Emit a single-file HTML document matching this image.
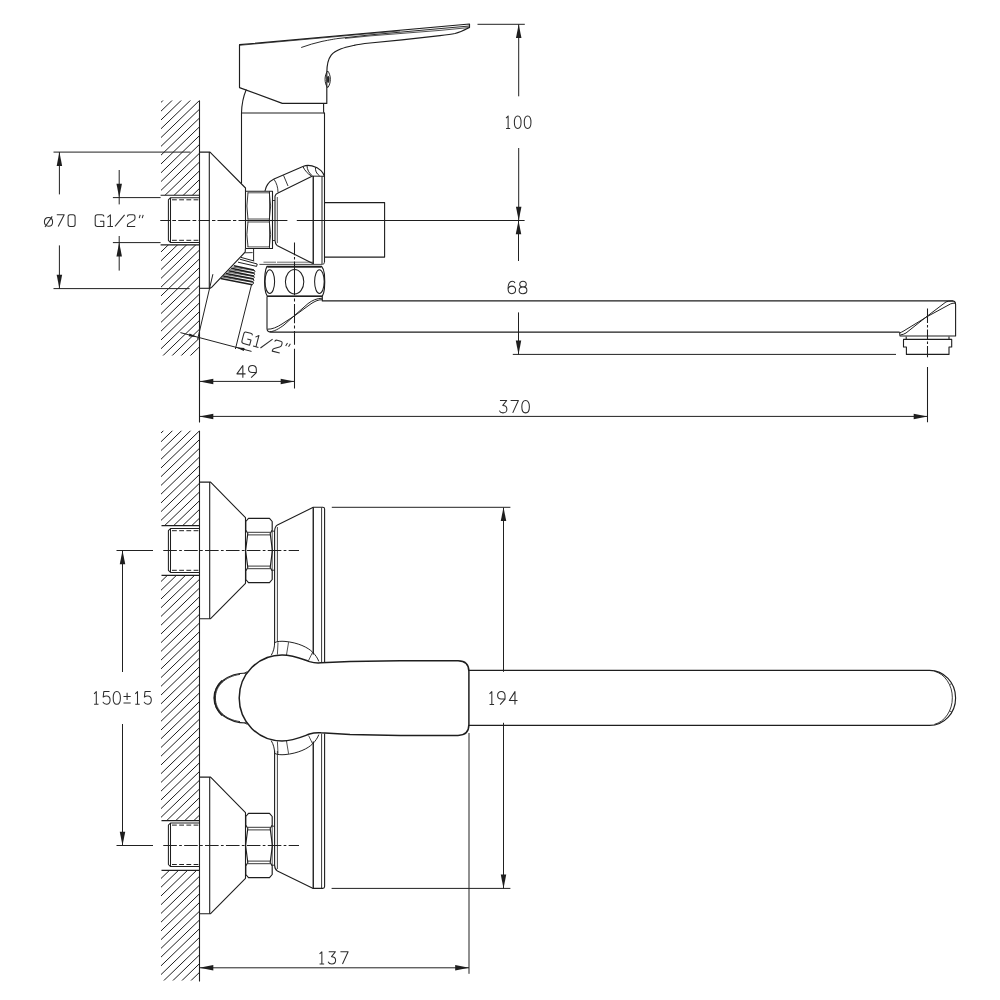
<!DOCTYPE html>
<html><head><meta charset="utf-8"><title>Faucet drawing</title>
<style>
html,body{margin:0;padding:0;background:#fff;font-family:"Liberation Sans",sans-serif;}
svg{display:block;}
</style></head>
<body>
<svg width="1000" height="1000" viewBox="0 0 1000 1000"
 fill="none" stroke="#1e1e1e" stroke-linecap="butt" stroke-linejoin="round">
<rect x="0" y="0" width="1000" height="1000" fill="#ffffff" stroke="none"/>
<path d="M199.5 100.4L199.5 422.6" stroke-width="1.10" />
<clipPath id="h1"><rect x="161.0" y="100.6" width="38.5" height="94.70000000000002"/></clipPath>
<path d="M160.00 85.72L200.50 46.63M160.00 94.52L200.50 55.44M160.00 103.32L200.50 64.23M160.00 112.12L200.50 73.03M160.00 120.92L200.50 81.84M160.00 129.72L200.50 90.64M160.00 138.52L200.50 99.44M160.00 147.32L200.50 108.23M160.00 156.12L200.50 117.03M160.00 164.92L200.50 125.84M160.00 173.72L200.50 134.64M160.00 182.52L200.50 143.44M160.00 191.32L200.50 152.24M160.00 200.12L200.50 161.03M160.00 208.92L200.50 169.84M160.00 217.72L200.50 178.64M160.00 226.52L200.50 187.44M160.00 235.32L200.50 196.24M160.00 244.12L200.50 205.03" stroke-width="1.0" clip-path="url(#h1)"/>
<clipPath id="h2"><rect x="161.0" y="245.0" width="38.5" height="110.39999999999998"/></clipPath>
<path d="M160.00 235.32L200.50 196.24M160.00 244.12L200.50 205.03M160.00 252.92L200.50 213.84M160.00 261.72L200.50 222.64M160.00 270.52L200.50 231.44M160.00 279.32L200.50 240.24M160.00 288.12L200.50 249.04M160.00 296.92L200.50 257.84M160.00 305.72L200.50 266.64M160.00 314.52L200.50 275.44M160.00 323.32L200.50 284.24M160.00 332.12L200.50 293.04M160.00 340.92L200.50 301.84M160.00 349.72L200.50 310.64M160.00 358.52L200.50 319.44M160.00 367.32L200.50 328.24M160.00 376.12L200.50 337.04M160.00 384.92L200.50 345.84M160.00 393.72L200.50 354.64M160.00 402.52L200.50 363.44" stroke-width="1.0" clip-path="url(#h2)"/>
<path d="M160.6 195.3L199.5 195.3" stroke-width="1.10" />
<path d="M160.6 244.9L199.5 244.9" stroke-width="1.10" />
<path d="M199.5 197.7L170.5 197.7L168.4 199.8L168.4 240.4L170.5 242.6L199.5 242.6M170.5 197.7L170.5 242.6" stroke-width="1.04" />
<path d="M172 199.8L199.5 199.8" stroke-width="0.99" stroke-dasharray="4.8 2.4"/>
<path d="M172 240.3L199.5 240.3" stroke-width="0.99" stroke-dasharray="4.8 2.4"/>
<path d="M199.5 152.1L210 152.1L245.5 188L245.5 248.5" stroke-width="1.10" />
<path d="M209.3 152.1L209.3 288.3" stroke-width="1.10" />
<path d="M199.5 288.3L210.4 288.3" stroke-width="1.10" />
<path d="M209.5 288.3L211.6 287.4L245.2 252L245.4 248.5" stroke-width="1.10" />
<path d="M245.5 191.2L272.5 191.2L272.5 248.5L245.5 248.5" stroke-width="1.10" />
<path d="M245.5 220.5L272.5 220.5" stroke-width="1.10" />
<path d="M247.5 192.8L270 192.8M247.5 246.9L270 246.9M247.5 219L270 219M247.5 222L270 222" stroke-width="0.77" />
<path d="M248 192.5Q245.8 206 248 219.5M248 221.5Q245.8 235 248 247" stroke-width="0.88" />
<path d="M269.3 192.5Q272 206 269.3 219.5M269.3 221.5Q272 235 269.3 247" stroke-width="0.88" />
<path d="M269.5 191.2L269.5 248.5" stroke-width="0.77" />
<path d="M272.5 200.5L275 200.5M272.5 240.5L275 240.5" stroke-width="0.88" />
<path d="M277.3 197L277.3 243" stroke-width="0.77" />
<path d="M241.5 113L241.5 183.5" stroke-width="1.10" />
<path d="M241.5 113L325 113" stroke-width="1.10" />
<path d="M324.5 113L324.5 262" stroke-width="1.10" />
<path d="M246.3 89.5Q241.8 100 241.5 113" stroke-width="1.10" />
<path d="M323.6 103.4L323.6 112Q323.8 113 324.5 113.4" stroke-width="1.10" />
<path d="M239.5 87.6L239.5 44.7L469.5 24L469.5 27.5C466.5 29 461 32 455 33.5C452 34.1 447 34.8 440 35.6L402 39.8L370 43C362 43.8 357 44.6 354 45.4C348 46.8 344.5 47.6 341.2 48.8C336 50.8 333 52.8 331.2 55.2C328.4 58.8 326.8 64 326.8 73L326.8 103.4L282.3 103.4Z" stroke-width="1.16" />
<path d="M301.2 47.5C308 45 315 43 322 41.4C330 39.8 335 38.9 338 38.5L370 34.9L440 28.6L469.5 26" stroke-width="0.94" />
<path d="M345 38.4L370 35.9L440 30.4L469.5 27.5" stroke-width="0.77" />
<path d="M239.5 45.3L400 30.9" stroke-width="0.77" />
<path d="M327.7 71C331.2 75 331.2 83.6 327.7 87.6C324.2 83.6 324.2 75 327.7 71Z" stroke-width="0.99" />
<ellipse cx="328.2" cy="79.4" rx="0.9" ry="3.2" stroke-width="0.8" fill="#1e1e1e"/>
<path d="M265 191C266 185.5 269 181.5 274 179L303.5 166.3C306 165.2 309 165.2 312 165.9C316 166.9 319 168.6 321 170.6C322.6 172.2 323.6 173.8 324.2 175.8" stroke-width="1.10" />
<path d="M275 196C275.6 194.4 276.6 193.6 278 193L312 176.2" stroke-width="1.10" />
<path d="M274 179.3C276.6 183 278 187.5 278 192.5M283.5 175.3L288 186" stroke-width="0.88" />
<path d="M303 166.6C304.4 170 307.6 173.8 311.4 176M307 165.5C307 169.4 309 173.4 312.4 175.8M315.6 167.4C315 170.4 316.4 173.6 319.6 175.9" stroke-width="0.99" />
<path d="M312 176.1L324.2 176.3" stroke-width="0.99" />
<path d="M313.25 176L313.25 264" stroke-width="1.38" />
<path d="M322 176.5L322 264" stroke-width="0.99" />
<path d="M275 196L275 240.5C275.2 243 275.8 244.4 277 245.4L312.8 263.6" stroke-width="1.10" />
<path d="M259.4 264.4L322.4 264.4Q324.5 264.4 324.5 262" stroke-width="0.83" />
<path d="M263.5 262.2L276 262.2M277 262.2L313 262.2" stroke-width="0.66" />
<path d="M324.5 202.6L384.6 202.6L384.6 257.1L324.5 257.1" stroke-width="1.10" />
<path d="M253.6 248.4L253.6 260.8" stroke-width="0.99" />
<path d="M245.5 248.5L253.6 248.5" stroke-width="0.88" />
<path d="M233.8 265.8L253.9 270.0M231.2 268.3L253.6 272.9M228.5 270.8L253.3 275.9M225.9 273.4L253.0 278.8M223.2 275.9L252.7 281.8M220.6 278.4L252.4 284.7" stroke-width="1.49" />
<path d="M232.5 267.1L254.8 270.6M229.8 269.6L254.5 273.5M227.2 272.1L254.2 276.5M224.6 274.6L253.9 279.4M221.9 277.1L253.6 282.4" stroke-width="0.66" />
<path d="M253.9 270L254.9 271.5L253.6 273L254.6 274.4L253.3 275.9L254.3 277.3L253 278.8L254 280.2L252.7 281.7L253.6 283L252.4 284.7" stroke-width="0.99" />
<path d="M241 257.4L254.2 261M239.8 259.2L257.2 264L256.6 266.4L238 262.2" stroke-width="0.99" />
<path d="M245.2 252.8L252.6 252.6" stroke-width="0.88" />
<path d="M212.9 274.2L197.6 339.4" stroke-width="0.99" />
<path d="M251.7 284L235.4 349" stroke-width="0.99" />
<path d="M180.4 332.6L251.5 351.4" stroke-width="0.99" />
<path d="M197.60 337.10L188.71 336.30L189.48 333.40Z" fill="#1e1e1e" stroke="none"/>
<path d="M235.70 347.30L244.59 348.10L243.82 351.00Z" fill="#1e1e1e" stroke="none"/>
<path d="M267 266.4L321.6 266.4C323 268 324 270.4 324.4 274C324.8 279 324.8 284 324.4 289C324 292.4 323.2 294.8 322.2 296.4L267.4 296.4C266.2 294.8 265.4 292.4 265 289C264.5 284 264.5 279 265 274C265.4 270.4 266 268 267 266.4Z" stroke-width="1.16" />
<path d="M267.4 267.4L321.4 267.4" stroke-width="0.77" />
<path d="M267.4 296.2L322.2 296.2" stroke-width="1.43" />
<ellipse cx="269.8" cy="281.6" rx="4.8" ry="11.8" stroke-width="1.05"/>
<ellipse cx="294.6" cy="281.8" rx="9.2" ry="12.2" stroke-width="1.05"/>
<ellipse cx="319.4" cy="281.6" rx="4.8" ry="11.8" stroke-width="1.05"/>
<path d="M267 296.6L267 328.6Q267 332.1 270.6 332.1L899.6 332.1" stroke-width="1.10" />
<path d="M322.3 296.6L322.3 300.9L952 300.9Q955.6 300.9 955.6 304.5L955.6 336L900 336L899.6 332.1" stroke-width="1.10" />
<path d="M267.4 329.2C272 329.4 277 327.2 282 324L294.4 315.9L310 304.5C314 301.7 318 299.5 322.3 299.7" stroke-width="0.99" />
<path d="M269.6 331.7C274 331.7 279 328.7 284 325L294.4 315.6L308 303.6C312 300.4 317 298.2 322.3 298.2" stroke-width="0.99" />
<path d="M900 332.8Q901.5 332.2 903 331.4L927.2 316.6L950.6 303.9Q953 302.9 955.4 303.2" stroke-width="0.99" />
<path d="M900.6 334.9Q903.4 334.6 906 333L927.2 316.2L946 301.9Q948 301 953 301" stroke-width="0.99" />
<path d="M906.2 336.4L906.2 339.4M949 336.4L949 339.4M903.5 339.4L951.7 339.4L951.7 347L949 347L949 354.4L906.4 354.4L906.4 347L903.5 347Z" stroke-width="1.10" />
<path d="M160.25 220.5L170 220.5M172.25 220.5L176 220.5M178.25 220.5L190.25 220.5M192.5 220.5L196.25 220.5M198.5 220.5L209.85 220.5M212 220.5L215.4 220.5M217.5 220.5L230.75 220.5M233 220.5L236.25 220.5M238.5 220.5L250.5 220.5M252.5 220.5L255.5 220.5M257 220.5L287.4 220.5M296.8 220.5L524.6 220.5" stroke-width="1.04" />
<path d="M294.5 242.4L294.5 255.2M294.5 257L294.5 259.6M294.5 261.6L294.5 295.2M294.5 298.4L294.5 301.6M294.5 304L294.5 323.2M294.5 325.4L294.5 328.6M294.5 331L294.5 344.8M294.5 348.8L294.5 388.6" stroke-width="1.04" />
<path d="M927.5 308.5L927.5 323M927.5 325L927.5 327.6M927.5 329.6L927.5 339.4M927.5 341.4L927.5 344M927.5 346L927.5 357.2M927.5 367L927.5 422.3" stroke-width="1.04" />
<path d="M53.5 152.1L190.4 152.1" stroke-width="0.99" />
<path d="M53.5 288.6L189.6 288.6" stroke-width="0.99" />
<path d="M59.4 152.1L59.4 194.4" stroke-width="0.99" />
<path d="M59.40 152.10L62.15 165.90L56.65 165.90Z" fill="#1e1e1e" stroke="none"/>
<path d="M59.4 245.4L59.4 288.6" stroke-width="0.99" />
<path d="M59.40 288.60L56.65 274.80L62.15 274.80Z" fill="#1e1e1e" stroke="none"/>
<path d="M112.9 197.6L160.6 197.6" stroke-width="0.99" />
<path d="M112.9 242.6L160.6 242.6" stroke-width="0.99" />
<path d="M119.2 170L119.2 204.4" stroke-width="0.99" />
<path d="M119.20 197.60L116.45 183.80L121.95 183.80Z" fill="#1e1e1e" stroke="none"/>
<path d="M119.2 236L119.2 270.6" stroke-width="0.99" />
<path d="M119.20 242.60L121.95 256.40L116.45 256.40Z" fill="#1e1e1e" stroke="none"/>
<path d="M477.5 24.3L524.8 24.3" stroke-width="0.99" />
<path d="M518.7 24.3L518.7 96.3" stroke-width="0.99" />
<path d="M518.70 24.30L521.45 38.10L515.95 38.10Z" fill="#1e1e1e" stroke="none"/>
<path d="M518.7 148L518.7 220.5" stroke-width="0.99" />
<path d="M518.70 220.50L515.95 206.70L521.45 206.70Z" fill="#1e1e1e" stroke="none"/>
<path d="M518.5 220.5L518.5 261" stroke-width="0.99" />
<path d="M518.50 220.50L521.25 234.30L515.75 234.30Z" fill="#1e1e1e" stroke="none"/>
<path d="M518.5 312.4L518.5 354.4" stroke-width="0.99" />
<path d="M518.50 354.40L515.75 340.60L521.25 340.60Z" fill="#1e1e1e" stroke="none"/>
<path d="M512.8 354.4L896 354.4" stroke-width="0.99" />
<path d="M199.5 381.4L294.5 381.4" stroke-width="0.99" />
<path d="M199.50 381.40L213.30 378.65L213.30 384.15Z" fill="#1e1e1e" stroke="none"/>
<path d="M294.50 381.40L280.70 384.15L280.70 378.65Z" fill="#1e1e1e" stroke="none"/>
<path d="M199.5 416.4L927.5 416.4" stroke-width="0.99" />
<path d="M199.50 416.40L213.30 413.65L213.30 419.15Z" fill="#1e1e1e" stroke="none"/>
<path d="M927.50 416.40L913.70 419.15L913.70 413.65Z" fill="#1e1e1e" stroke="none"/>
<g transform="translate(44.4 214.8) rotate(0)" stroke-width="1.05" stroke="#2c2c2c"><path transform="translate(0.00 0) scale(1.0 0.97)" d="M4.1 2.8C6.5 2.8 8.2 4.7 8.2 7.3C8.2 9.9 6.5 11.8 4.1 11.8C1.7 11.8 0 9.9 0 7.3C0 4.7 1.7 2.8 4.1 2.8ZM.6 12.6L7.8 1.6" vector-effect="non-scaling-stroke"/><path transform="translate(12.20 0) scale(1.0 0.97)" d="M.2 0L7.6 0L1.6 12" vector-effect="non-scaling-stroke"/><path transform="translate(23.70 0) scale(1.0 0.97)" d="M2 0L5 0Q7 0 7 2.2L7 9.8Q7 12 5 12L2 12Q0 12 0 9.8L0 2.2Q0 0 2 0Z" vector-effect="non-scaling-stroke"/></g>
<g transform="translate(95.2 214.8) rotate(0)" stroke-width="1.05" stroke="#2c2c2c"><path transform="translate(0.00 0) scale(1.0 0.97)" d="M8.6 1.8Q8.6 0 6.6 0L2.2 0Q0 0 0 2.2L0 9.8Q0 12 2.2 12L8.6 12L8.6 6.6L4.8 6.6" vector-effect="non-scaling-stroke"/><path transform="translate(11.00 0) scale(1.0 0.97)" d="M1.2 2.6L4.2 0L4.2 12M1.2 12L6.8 12" vector-effect="non-scaling-stroke"/><path transform="translate(19.80 0) scale(1.0 0.97)" d="M0 12L9.6 0" vector-effect="non-scaling-stroke"/><path transform="translate(32.00 0) scale(1.0 0.97)" d="M.2 1.9Q.2 0 2.2 0L5.8 0Q7.8 0 7.8 2L7.8 3.6Q7.8 5.2 6.3 6L1.4 8.8Q.2 9.5 .2 11L.2 12L8 12" vector-effect="non-scaling-stroke"/><path transform="translate(42.60 0) scale(1.0 0.97)" d="M2.4 0L1.4 3.4M5.4 0L4.4 3.4" vector-effect="non-scaling-stroke"/></g>
<g transform="translate(244.4 331.6) rotate(14.8)" stroke-width="1.05" stroke="#2c2c2c"><path transform="translate(0.00 0) scale(0.99 0.98)" d="M8.6 1.8Q8.6 0 6.6 0L2.2 0Q0 0 0 2.2L0 9.8Q0 12 2.2 12L8.6 12L8.6 6.6L4.8 6.6" vector-effect="non-scaling-stroke"/><path transform="translate(10.90 0) scale(0.99 0.98)" d="M1.2 2.6L4.2 0L4.2 12M1.2 12L6.8 12" vector-effect="non-scaling-stroke"/><path transform="translate(19.70 0) scale(0.99 0.98)" d="M0 12L9.6 0" vector-effect="non-scaling-stroke"/><path transform="translate(31.70 0) scale(0.99 0.98)" d="M.2 1.9Q.2 0 2.2 0L5.8 0Q7.8 0 7.8 2L7.8 3.6Q7.8 5.2 6.3 6L1.4 8.8Q.2 9.5 .2 11L.2 12L8 12" vector-effect="non-scaling-stroke"/><path transform="translate(42.20 0) scale(0.99 0.98)" d="M2.4 0L1.4 3.4M5.4 0L4.4 3.4" vector-effect="non-scaling-stroke"/></g>
<g transform="translate(504.3 116) rotate(0)" stroke-width="1.05" stroke="#2c2c2c"><path transform="translate(0.00 0) scale(0.93 1.04)" d="M1.9 2.1L4.1 0L4.1 12M1.9 12L6.3 12" vector-effect="non-scaling-stroke"/><path transform="translate(9.70 0) scale(0.93 1.04)" d="M4 0C1.6 0 .4 2.4 .4 6C.4 9.6 1.6 12 4 12C6.4 12 7.6 9.6 7.6 6C7.6 2.4 6.4 0 4 0Z" vector-effect="non-scaling-stroke"/><path transform="translate(19.60 0) scale(0.93 1.04)" d="M4 0C1.6 0 .4 2.4 .4 6C.4 9.6 1.6 12 4 12C6.4 12 7.6 9.6 7.6 6C7.6 2.4 6.4 0 4 0Z" vector-effect="non-scaling-stroke"/></g>
<g transform="translate(507.6 281.3) rotate(0)" stroke-width="1.05" stroke="#2c2c2c"><path transform="translate(0.00 0) scale(1.05 1.03)" d="M7 1.7C6.6 .6 5.6 0 4.4 0C1.8 0 .4 2.8 .4 7C.4 10.4 1.8 12 4 12C6.2 12 7.6 10.5 7.6 8.3C7.6 6.1 6.2 4.7 4 4.7C2 4.7 .6 6 .4 8" vector-effect="non-scaling-stroke"/><path transform="translate(11.20 0) scale(1.05 1.03)" d="M4 0C2 0 .9 1.2 .9 2.8C.9 4.4 2 5.4 4 5.4C6 5.4 7.1 4.4 7.1 2.8C7.1 1.2 6 0 4 0M4 5.4C1.6 5.4 .3 6.8 .3 8.7C.3 10.6 1.6 12 4 12C6.4 12 7.7 10.6 7.7 8.7C7.7 6.8 6.4 5.4 4 5.4" vector-effect="non-scaling-stroke"/></g>
<g transform="translate(236.7 365.5) rotate(0)" stroke-width="1.05" stroke="#2c2c2c"><path transform="translate(0.00 0) scale(1.08 1.02)" d="M5.7 12L5.7 0L.2 8.2L8.2 8.2" vector-effect="non-scaling-stroke"/><path transform="translate(11.40 0) scale(1.08 1.02)" d="M7.6 3.6C7.6 1.4 6.2 0 4 0C1.8 0 .4 1.4 .4 3.5C.4 5.6 1.7 6.9 3.8 6.9L7.4 6.9M7.6 3.6L7.6 7L2.8 12" vector-effect="non-scaling-stroke"/></g>
<g transform="translate(499 400.5) rotate(0)" stroke-width="1.05" stroke="#2c2c2c"><path transform="translate(0.00 0) scale(1.05 1.03)" d="M.9 0L7.3 0L3.6 4.8C6 4.8 7.5 6.1 7.5 8.4C7.5 10.7 6 12 3.8 12C2.1 12 .9 11.2 .3 9.8" vector-effect="non-scaling-stroke"/><path transform="translate(11.20 0) scale(1.05 1.03)" d="M.4 0L7.8 0L2.4 12" vector-effect="non-scaling-stroke"/><path transform="translate(22.40 0) scale(1.05 1.03)" d="M4 0C1.6 0 .4 2.4 .4 6C.4 9.6 1.6 12 4 12C6.4 12 7.6 9.6 7.6 6C7.6 2.4 6.4 0 4 0Z" vector-effect="non-scaling-stroke"/></g>
<path d="M199.5 430.8L199.5 981.5" stroke-width="1.10" />
<clipPath id="h3"><rect x="161.0" y="430.8" width="38.5" height="94.80000000000001"/></clipPath>
<path d="M160.00 416.51L200.50 377.43M160.00 425.24L200.50 386.16M160.00 433.98L200.50 394.90M160.00 442.71L200.50 403.63M160.00 451.45L200.50 412.37M160.00 460.18L200.50 421.10M160.00 468.92L200.50 429.84M160.00 477.65L200.50 438.57M160.00 486.39L200.50 447.31M160.00 495.12L200.50 456.04M160.00 503.86L200.50 464.78M160.00 512.59L200.50 473.51M160.00 521.33L200.50 482.25M160.00 530.06L200.50 490.98M160.00 538.80L200.50 499.72M160.00 547.53L200.50 508.45M160.00 556.27L200.50 517.18M160.00 565.00L200.50 525.92M160.00 573.74L200.50 534.65" stroke-width="1.0" clip-path="url(#h3)"/>
<clipPath id="h4"><rect x="161.0" y="575.4" width="38.5" height="245.20000000000005"/></clipPath>
<path d="M160.00 565.00L200.50 525.92M160.00 573.74L200.50 534.65M160.00 582.47L200.50 543.39M160.00 591.21L200.50 552.12M160.00 599.94L200.50 560.86M160.00 608.68L200.50 569.59M160.00 617.41L200.50 578.33M160.00 626.15L200.50 587.06M160.00 634.88L200.50 595.80M160.00 643.62L200.50 604.53M160.00 652.35L200.50 613.27M160.00 661.09L200.50 622.00M160.00 669.82L200.50 630.74M160.00 678.56L200.50 639.48M160.00 687.29L200.50 648.21M160.00 696.03L200.50 656.94M160.00 704.76L200.50 665.68M160.00 713.50L200.50 674.41M160.00 722.23L200.50 683.15M160.00 730.97L200.50 691.88M160.00 739.70L200.50 700.62M160.00 748.44L200.50 709.35M160.00 757.17L200.50 718.09M160.00 765.91L200.50 726.82M160.00 774.64L200.50 735.56M160.00 783.38L200.50 744.29M160.00 792.11L200.50 753.03M160.00 800.85L200.50 761.76M160.00 809.58L200.50 770.50M160.00 818.32L200.50 779.24M160.00 827.05L200.50 787.97M160.00 835.79L200.50 796.71M160.00 844.52L200.50 805.44M160.00 853.26L200.50 814.17M160.00 861.99L200.50 822.91M160.00 870.73L200.50 831.64" stroke-width="1.0" clip-path="url(#h4)"/>
<clipPath id="h5"><rect x="161.0" y="870.4" width="38.5" height="110.20000000000005"/></clipPath>
<path d="M160.00 853.26L200.50 814.17M160.00 861.99L200.50 822.91M160.00 870.73L200.50 831.64M160.00 879.46L200.50 840.38M160.00 888.20L200.50 849.11M160.00 896.93L200.50 857.85M160.00 905.67L200.50 866.58M160.00 914.40L200.50 875.32M160.00 923.14L200.50 884.05M160.00 931.87L200.50 892.79M160.00 940.61L200.50 901.52M160.00 949.34L200.50 910.26M160.00 958.08L200.50 919.00M160.00 966.81L200.50 927.73M160.00 975.55L200.50 936.47M160.00 984.28L200.50 945.20M160.00 993.02L200.50 953.93M160.00 1001.75L200.50 962.67M160.00 1010.49L200.50 971.40M160.00 1019.22L200.50 980.14M160.00 1027.96L200.50 988.87" stroke-width="1.0" clip-path="url(#h5)"/>
<path d="M161.5 525.6L199.5 525.6" stroke-width="1.10" />
<path d="M161.5 575.4L199.5 575.4" stroke-width="1.10" />
<path d="M161.5 820.6L199.5 820.6" stroke-width="1.10" />
<path d="M161.5 870.4L199.5 870.4" stroke-width="1.10" />
<path d="M199.5 528.6L170.5 528.6L168.4 530.7L168.4 570.3L170.5 572.4L199.5 572.4M170.5 528.6L170.5 572.4" stroke-width="1.04" />
<path d="M172 530.7L199.5 530.7" stroke-width="0.99" stroke-dasharray="4.8 2.4"/>
<path d="M172 570.3L199.5 570.3" stroke-width="0.99" stroke-dasharray="4.8 2.4"/>
<path d="M199.5 823.0L170.5 823.0L168.4 825.1L168.4 864.5L170.5 866.6L199.5 866.6M170.5 823.0L170.5 866.6" stroke-width="1.04" />
<path d="M172 825.1L199.5 825.1" stroke-width="0.99" stroke-dasharray="4.8 2.4"/>
<path d="M172 864.5L199.5 864.5" stroke-width="0.99" stroke-dasharray="4.8 2.4"/>
<path d="M199.5 482.1L210.6 482.1L245.5 517.7L245.5 583.3L210.6 618.7L199.5 618.7" stroke-width="1.10" />
<path d="M209.7 482.1L209.7 618.7" stroke-width="1.10" />
<path d="M248.5 518.30L269.5 518.30L272.2 521.50L272.2 530.00L270.2 533.50L272.4 550.50L270.2 567.50L272.2 571.00L272.2 579.50L269.5 582.70L248.5 582.70L245.8 579.50L245.8 571.00L247.8 567.50L245.6 550.50L247.8 533.50L245.8 530.00L245.8 521.50Z" stroke-width="1.16" />
<path d="M247.8 532.30L270.2 532.30M247.8 534.90L270.2 534.90M247.8 568.70L270.2 568.70M247.8 566.10L270.2 566.10" stroke-width="0.88" />
<path d="M272.2 530.00L272.2 571.00" stroke-width="0.77" />
<path d="M272.2 531.20L274.2 531.20M272.2 570.20L274.2 570.20" stroke-width="0.88" />
<path d="M116.5 550.5L153 550.5" stroke-width="0.99" />
<path d="M163.25 550.5L299 550.5" stroke-width="0.99" stroke-dasharray="13.6 2.3 2.7 2.3"/>
<path d="M199.5 777.1L210.6 777.1L245.5 812.7L245.5 878.3L210.6 913.7L199.5 913.7" stroke-width="1.10" />
<path d="M209.7 777.1L209.7 913.7" stroke-width="1.10" />
<path d="M248.5 813.30L269.5 813.30L272.2 816.50L272.2 825.00L270.2 828.50L272.4 845.50L270.2 862.50L272.2 866.00L272.2 874.50L269.5 877.70L248.5 877.70L245.8 874.50L245.8 866.00L247.8 862.50L245.6 845.50L247.8 828.50L245.8 825.00L245.8 816.50Z" stroke-width="1.16" />
<path d="M247.8 827.30L270.2 827.30M247.8 829.90L270.2 829.90M247.8 863.70L270.2 863.70M247.8 861.10L270.2 861.10" stroke-width="0.88" />
<path d="M272.2 825.00L272.2 866.00" stroke-width="0.77" />
<path d="M272.2 826.20L274.2 826.20M272.2 865.20L274.2 865.20" stroke-width="0.88" />
<path d="M116.5 845.5L153 845.5" stroke-width="0.99" />
<path d="M163.25 845.5L299 845.5" stroke-width="0.99" stroke-dasharray="13.6 2.3 2.7 2.3"/>
<path d="M274.6 643L274.6 531C274.8 527.8 275.6 526 277.4 525L313.25 507.3L322.8 507.3Q324.6 507.3 324.6 509.1L324.6 662" stroke-width="1.10" />
<path d="M274.6 750.5L274.6 865.4C274.8 868.4 275.6 870 277.4 871L313.25 888.4L322.8 888.4Q324.6 888.4 324.6 886.6L324.6 733.4" stroke-width="1.10" />
<path d="M277.4 527L277.4 642M277.4 751L277.4 869" stroke-width="0.83" />
<path d="M313.25 507.3L313.25 654.4M313.25 741.4L313.25 888.4" stroke-width="1.38" />
<path d="M321.6 507.6L321.6 662M321.6 733.6L321.6 888.4" stroke-width="0.88" />
<path d="M282 655 C258.3 655 239.2 674.2 239.2 698 C239.2 721.8 258.3 741 282 741 C293 741 301 737.2 309.5 734 C314 732.6 317 732.4 321 732.8 L350 734.6 L400 735.4 L458 735.4 Q468.9 735.4 468.9 724.6 L468.9 671.6 Q468.9 660.8 458 660.8 L400 660.8 L350 661.4 L321 662.8 C317 663.2 314 663 309.5 661.6 C301 658.6 293 655 282 655 Z" stroke-width="1.49" />
<path d="M246.6 673C228 673 214 684 214 698C214 712 228 723 246.6 723" stroke-width="1.21" />
<path d="M222 680.6C217 685.4 214.6 691 214.6 698C214.6 705 217 710.6 222 715.4" stroke-width="1.43" />
<path d="M240 674.4C225 676.4 215.4 686 215.4 698C215.4 710 225 719.6 240 721.6" stroke-width="0.88" />
<path d="M244.4 673.2L247.4 671.6M244.4 722.8L247.4 724.4" stroke-width="0.88" />
<path d="M271.2 655.4C273.6 651.4 274.6 647 274.6 642.6C277 641.4 281 641 285 641.4C298 642.6 308 647.4 312.6 652.2C315.4 655 317.6 658 318.8 661.4" stroke-width="0.99" />
<path d="M271.2 740.6C273.6 744.6 274.6 749 274.6 753.4C277 754.6 281 755 285 754.6C298 753.4 308 748.6 312.6 743.8C315.4 741 317.6 738 318.8 734.6" stroke-width="0.99" />
<path d="M278 642.4L277.4 654.6M288.6 642.2L286.4 655.4M312.6 652.2L308.6 660.4" stroke-width="0.77" />
<path d="M278 753.6L277.4 741.4M288.6 753.8L286.4 740.6M312.6 743.8L308.6 735.6" stroke-width="0.77" />
<path d="M468.9 670.4L929.6 670.4A26 27.5 0 0 1 929.6 725.4L468.9 725.4" stroke-width="1.16" />
<path d="M934.3 671.2A22.8 27.2 0 0 1 934.3 724.4" stroke-width="0.88" />
<path d="M949.6 684.6L951.8 683.6M949.6 711L951.8 712" stroke-width="0.77" />
<path d="M122.5 550.5L122.5 672" stroke-width="0.99" />
<path d="M122.50 550.50L125.25 564.30L119.75 564.30Z" fill="#1e1e1e" stroke="none"/>
<path d="M122.5 724L122.5 845.5" stroke-width="0.99" />
<path d="M122.50 845.50L119.75 831.70L125.25 831.70Z" fill="#1e1e1e" stroke="none"/>
<path d="M331.8 507.3L510.4 507.3" stroke-width="0.99" />
<path d="M331.6 888.4L510.4 888.4" stroke-width="0.99" />
<path d="M503.5 507.6L503.5 671.8" stroke-width="0.99" />
<path d="M503.50 507.30L506.25 521.10L500.75 521.10Z" fill="#1e1e1e" stroke="none"/>
<path d="M503.5 722.8L503.5 888.4" stroke-width="0.99" />
<path d="M503.50 888.40L500.75 874.60L506.25 874.60Z" fill="#1e1e1e" stroke="none"/>
<path d="M469 733L469 973.8" stroke-width="0.99" />
<path d="M199.5 967.8L469 967.8" stroke-width="0.99" />
<path d="M199.50 967.80L213.30 965.05L213.30 970.55Z" fill="#1e1e1e" stroke="none"/>
<path d="M469.00 967.80L455.20 970.55L455.20 965.05Z" fill="#1e1e1e" stroke="none"/>
<g transform="translate(92.2 691.6) rotate(0)" stroke-width="1.05" stroke="#2c2c2c"><path transform="translate(0.00 0) scale(1.0 1.05)" d="M1.9 2.1L4.1 0L4.1 12M1.9 12L6.3 12" vector-effect="non-scaling-stroke"/><path transform="translate(10.30 0) scale(1.0 1.05)" d="M7 0L1.3 0L.7 5.2C1.5 4.5 2.6 4.1 4 4.1C6.2 4.1 7.6 5.7 7.6 8C7.6 10.4 6.2 12 4 12C2.2 12 1 11.2 .3 9.8" vector-effect="non-scaling-stroke"/><path transform="translate(20.60 0) scale(1.0 1.05)" d="M4 0C1.6 0 .4 2.4 .4 6C.4 9.6 1.6 12 4 12C6.4 12 7.6 9.6 7.6 6C7.6 2.4 6.4 0 4 0Z" vector-effect="non-scaling-stroke"/><path transform="translate(30.90 0) scale(1.0 1.05)" d="M.4 4.6L7.6 4.6M4 1.2L4 8M.4 10.8L7.6 10.8" vector-effect="non-scaling-stroke"/><path transform="translate(41.20 0) scale(1.0 1.05)" d="M1.9 2.1L4.1 0L4.1 12M1.9 12L6.3 12" vector-effect="non-scaling-stroke"/><path transform="translate(51.50 0) scale(1.0 1.05)" d="M7 0L1.3 0L.7 5.2C1.5 4.5 2.6 4.1 4 4.1C6.2 4.1 7.6 5.7 7.6 8C7.6 10.4 6.2 12 4 12C2.2 12 1 11.2 .3 9.8" vector-effect="non-scaling-stroke"/></g>
<g transform="translate(487.6 691.6) rotate(0)" stroke-width="1.05" stroke="#2c2c2c"><path transform="translate(0.00 0) scale(1.03 1.08)" d="M1.9 2.1L4.1 0L4.1 12M1.9 12L6.3 12" vector-effect="non-scaling-stroke"/><path transform="translate(9.60 0) scale(1.03 1.08)" d="M7.6 3.6C7.6 1.4 6.2 0 4 0C1.8 0 .4 1.4 .4 3.5C.4 5.6 1.7 6.9 3.8 6.9L7.4 6.9M7.6 3.6L7.6 7L2.8 12" vector-effect="non-scaling-stroke"/><path transform="translate(21.50 0) scale(1.03 1.08)" d="M5.7 12L5.7 0L.2 8.2L8.2 8.2" vector-effect="non-scaling-stroke"/></g>
<g transform="translate(317.6 951.8) rotate(0)" stroke-width="1.05" stroke="#2c2c2c"><path transform="translate(0.00 0) scale(1.04 1.02)" d="M1.9 2.1L4.1 0L4.1 12M1.9 12L6.3 12" vector-effect="non-scaling-stroke"/><path transform="translate(10.20 0) scale(1.04 1.02)" d="M.9 0L7.3 0L3.6 4.8C6 4.8 7.5 6.1 7.5 8.4C7.5 10.7 6 12 3.8 12C2.1 12 .9 11.2 .3 9.8" vector-effect="non-scaling-stroke"/><path transform="translate(22.40 0) scale(1.04 1.02)" d="M.4 0L7.8 0L2.4 12" vector-effect="non-scaling-stroke"/></g>
</svg>
</body></html>
